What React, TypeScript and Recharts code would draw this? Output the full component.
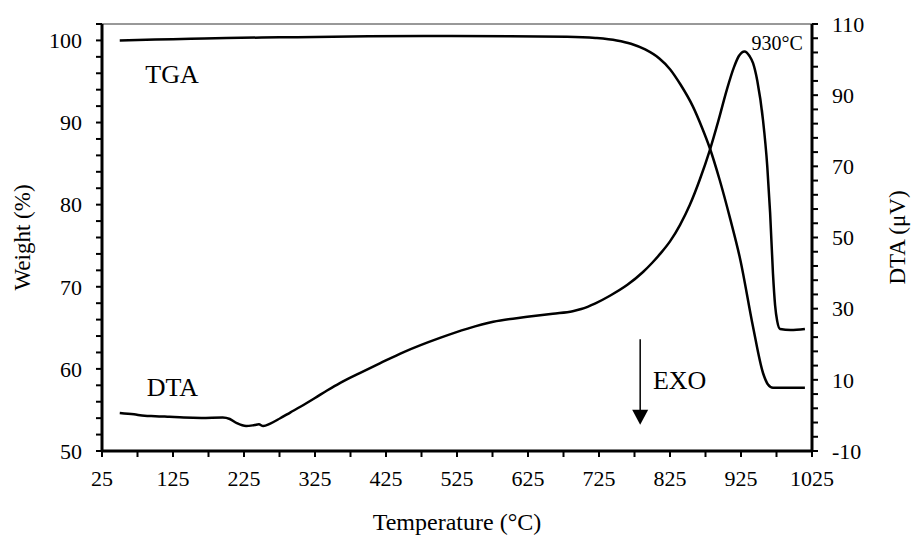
import { ComposedChart, Line, XAxis, YAxis, ReferenceLine, ReferenceDot } from "recharts";

// TGA curve: temperature (°C) vs weight (%)
const tgaTemp = [50, 100, 150, 200, 250, 300, 400, 500, 600, 680, 720, 750, 770, 790, 810, 825, 840, 857, 870, 881, 895, 910, 924, 942, 956, 963, 970, 990, 1015];
const tgaWeight = [100.0, 100.1, 100.2, 100.3, 100.35, 100.4, 100.5, 100.55, 100.5, 100.45, 100.3, 100.0, 99.6, 98.9, 97.8, 96.5, 94.6, 92.0, 89.4, 86.9, 83.0, 78.2, 73.3, 65.1, 59.5, 58.1, 57.7, 57.7, 57.7];

// DTA curve: temperature (°C) vs signal (µV)
const dtaTemp = [50, 70, 85, 100, 120, 140, 165, 195, 205, 215, 228, 240, 246, 252, 262, 276, 290, 305, 325, 342, 360, 388, 417, 450, 501, 540, 576, 624, 660, 688, 700, 720, 741, 765, 787, 800, 812, 825, 839, 853, 867, 881, 893, 905, 915, 922, 930, 937, 942, 948, 956, 962, 966, 970, 973, 976, 980, 995, 1015];
const dtaSignal = [0.7, 0.3, -0.1, -0.2, -0.4, -0.6, -0.7, -0.6, -1.0, -2.2, -3.0, -2.7, -2.5, -3.0, -2.3, -0.8, 0.8, 2.5, 4.9, 7.0, 9.1, 11.9, 14.7, 17.8, 21.8, 24.4, 26.3, 27.7, 28.6, 29.3, 29.9, 31.5, 33.7, 36.7, 40.3, 42.9, 45.6, 48.9, 53.5, 59.2, 66.3, 74.5, 82.7, 91.5, 97.8, 101.0, 102.3, 101.0, 99.0, 94.0, 83.0, 70.0, 57.0, 40.0, 31.0, 26.5, 24.3, 24.0, 24.3];

const tempTicks = [25, 75, 125, 175, 225, 275, 325, 375, 425, 475, 525, 575, 625, 675, 725, 775, 825, 875, 925, 975, 1025];
const weightTicks = [50, 52, 54, 56, 58, 60, 62, 64, 66, 68, 70, 72, 74, 76, 78, 80, 82, 84, 86, 88, 90, 92, 94, 96, 98, 100, 102];
const dtaTicks = [-10, -6, -2, 2, 6, 10, 14, 18, 22, 26, 30, 34, 38, 42, 46, 50, 54, 58, 62, 66, 70, 74, 78, 82, 86, 90, 94, 98, 102, 106, 110];

const tga = tgaTemp.map((t, i) => ({ temp: t, weight: tgaWeight[i] }));
const dta = dtaTemp.map((t, i) => ({ temp: t, dta: dtaSignal[i] }));

const FONT = '"Liberation Serif", "Times New Roman", serif';
const tickStyle = { fill: "#000", fontSize: 22, fontFamily: FONT };
const axisLine = { stroke: "#000", strokeWidth: 3 };
const tickLine = { stroke: "#000", strokeWidth: 2 };

const note = (text: string, size: number, anchor: "start" | "end" = "start") => (p: any) => (
  <text x={p.cx} y={p.cy} textAnchor={anchor} dominantBaseline="central" fontSize={size} fontFamily={FONT} fill="#000">
    {text}
  </text>
);

const arrowHead = (p: any) => (
  <polygon points={`${p.cx - 8},${p.cy - 15} ${p.cx + 8},${p.cy - 15} ${p.cx},${p.cy}`} fill="#000" />
);

const sideTitle = (text: string, cx: number) => (p: any) => {
  const vb = p.viewBox;
  const cy = vb.y + vb.height / 2;
  return (
    <text x={cx} y={cy} transform={`rotate(-90 ${cx} ${cy})`} textAnchor="middle" dominantBaseline="central" fontSize={23} fontFamily={FONT} fill="#000">
      {text}
    </text>
  );
};

const bottomTitle = (p: any) => {
  const vb = p.viewBox;
  return (
    <text x={vb.x + vb.width / 2} y={522} textAnchor="middle" dominantBaseline="central" fontSize={24} fontFamily={FONT} fill="#000">
      Temperature (°C)
    </text>
  );
};

export default function App() {
  return (
    <div style={{ position: "absolute", left: 0, top: 0, background: "#fff" }}>
      <ComposedChart width={919} height={539} margin={{ top: 24, right: 0, left: 0, bottom: 0 }} style={{ fontFamily: FONT }}>
        <XAxis
          type="number"
          dataKey="temp"
          domain={[25, 1025]}
          ticks={tempTicks}
          interval={0}
          tickFormatter={(v) => ((v - 25) % 100 === 0 ? String(v) : "")}
          height={88}
          tick={tickStyle}
          tickSize={6}
          tickMargin={13}
          axisLine={axisLine}
          tickLine={tickLine}
          label={bottomTitle}
        />
        <YAxis
          yAxisId="left"
          type="number"
          domain={[50, 102]}
          ticks={weightTicks}
          interval={0}
          tickFormatter={(v) => (v % 10 === 0 ? String(v) : "")}
          width={102}
          tick={tickStyle}
          tickSize={6}
          tickMargin={14}
          axisLine={axisLine}
          tickLine={tickLine}
          label={sideTitle("Weight (%)", 22)}
        />
        <YAxis
          yAxisId="right"
          orientation="right"
          type="number"
          domain={[-10, 110]}
          ticks={dtaTicks}
          interval={0}
          tickFormatter={(v) => ((v + 10) % 20 === 0 ? String(v) : "")}
          width={107}
          tick={tickStyle}
          tickSize={6}
          tickMargin={14}
          axisLine={axisLine}
          tickLine={tickLine}
          label={sideTitle("DTA (μV)", 897)}
        />
        <ReferenceLine yAxisId="left" y={102} stroke="#333" strokeWidth={1} />
        <Line yAxisId="left" data={tga} dataKey="weight" type="monotone" stroke="#000" strokeWidth={2.5} dot={false} isAnimationActive={false} />
        <Line yAxisId="right" data={dta} dataKey="dta" type="monotone" stroke="#000" strokeWidth={2.5} dot={false} isAnimationActive={false} />
        <ReferenceDot yAxisId="left" x={86} y={95.9} r={0} shape={note("TGA", 26)} />
        <ReferenceDot yAxisId="left" x={88} y={57.7} r={0} shape={note("DTA", 26)} />
        <ReferenceDot yAxisId="left" x={801} y={58.6} r={0} shape={note("EXO", 26)} />
        <ReferenceDot yAxisId="right" x={1012} y={104.7} r={0} shape={note("930°C", 20, "end")} />
        <ReferenceLine
          yAxisId="left"
          segment={[{ x: 783, y: 63.6 }, { x: 783, y: 55 }]}
          stroke="#000"
          strokeWidth={1.5}
        />
        <ReferenceDot yAxisId="left" x={783} y={53.2} r={0} shape={arrowHead} />
      </ComposedChart>
    </div>
  );
}
